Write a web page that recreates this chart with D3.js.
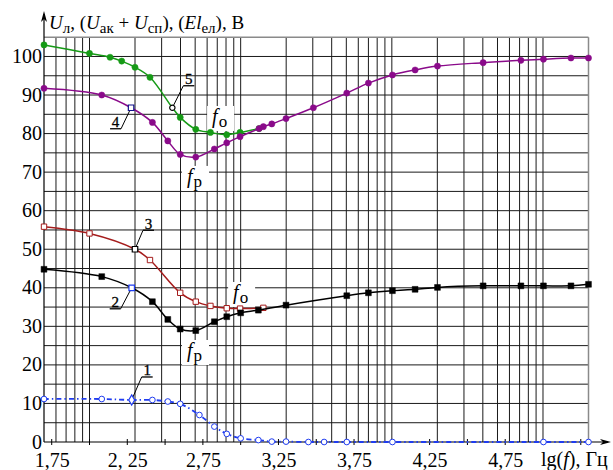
<!DOCTYPE html>
<html>
<head>
<meta charset="utf-8">
<script src="https://cdnjs.cloudflare.com/ajax/libs/d3/7.8.5/d3.min.js"></script>
<style>
body { margin: 0; background: #fff; }
svg text { font-family: "Liberation Serif", "Times New Roman", serif; }
</style>
</head>
<body>
<div id="chart"></div>
<script>
// curve 1 (blue, dashed)
var lgF1 = [1.699, 2.081, 2.279, 2.416, 2.518, 2.6, 2.727, 2.826, 2.908, 3.0, 3.117, 3.206, 3.30, 3.448, 3.552, 3.702, 4.004, 5.003, 5.301];
var u1 = [11.15, 11.15, 10.9, 10.9, 10.5, 9.9, 7.0, 4.0, 2.1, 0.95, 0.5, 0.1, 0.1, 0, 0, 0, 0, 0, 0];
// curve 2 (black)
var lgF2 = [1.699, 2.081, 2.279, 2.416, 2.518, 2.6, 2.703, 2.826, 2.908, 3.0, 3.117, 3.30, 3.702, 3.845, 4.004, 4.154, 4.302, 4.604, 4.854, 5.003, 5.185, 5.301];
var u2 = [44.8, 42.9, 40.0, 36.4, 31.8, 29.3, 28.9, 31.2, 32.5, 33.5, 34.2, 35.5, 37.95, 38.7, 39.25, 39.6, 40.1, 40.5, 40.5, 40.5, 40.5, 40.9];
// curve 3 (dark red)
var lgF3 = [1.699, 2.0, 2.301, 2.40, 2.6, 2.703, 2.80, 2.908, 2.996, 3.15];
var u3 = [55.85, 54.1, 50.0, 47.2, 38.7, 36.4, 35.3, 34.7, 34.6, 34.8];
// curve 4 (purple)
var lgF4 = [1.699, 2.081, 2.275, 2.416, 2.518, 2.6, 2.703, 2.826, 2.908, 2.996, 3.122, 3.15, 3.206, 3.30, 3.481, 3.702, 3.845, 4.004, 4.154, 4.302, 4.604, 4.854, 5.003, 5.185, 5.301];
var u4 = [91.75, 90.0, 86.7, 82.9, 78.1, 74.6, 73.9, 76.0, 77.6, 79.2, 81.3, 81.8, 82.5, 83.9, 86.7, 90.5, 93.1, 95.2, 96.5, 97.5, 98.4, 99.0, 99.3, 99.6, 99.6];
// curve 5 (green)
var lgF5 = [1.699, 2.0, 2.136, 2.213, 2.301, 2.40, 2.548, 2.6, 2.703, 2.80, 2.908, 2.996, 3.122];
var u5 = [103.0, 100.8, 99.8, 98.8, 97.2, 94.6, 86.7, 84.2, 81.1, 80.3, 79.7, 80.3, 81.3];

var xTickValues = [1.75, 2.25, 2.75, 3.25, 3.75, 4.25, 4.75];
var xTickLabels = ["1,75", "2, 25", "2,75", "3,25", "3,75", "4,25", "4,75"];
var xMinorTicks = [1.75, 2.0, 2.25, 2.5, 2.75, 3.0, 3.25, 3.5, 3.75, 4.0, 4.25, 4.5, 4.75, 5.0, 5.25];
var yTickValues = [0, 10, 20, 30, 40, 50, 60, 70, 80, 90, 100];

// f_o / f_p annotations (lg f, value)
var fLabelLg = [2.811, 2.645, 2.950, 2.645];
var fLabelU = [82.75, 67.2, 37.1, 22.05];
var fLabelSub = ["о", "р", "о", "р"];

var width = 613, height = 470;
var svg = d3.select("#chart").append("svg")
	.attr("width", width)
	.attr("height", height);

var x = d3.scaleLinear().domain([Math.log10(50), Math.log10(200000)]).range([44, 588.5]);
var y = d3.scaleLinear().domain([0, 105]).range([442, 37.2]);

// grid
var gridLg = [];
for(var n = 1; n <= 5; n++) {
	for(var k = 1; k <= 9; k++) {
		var f = k * Math.pow(10, n);
		if(f > 50 && f < 200000) gridLg.push(Math.log10(f));
	}
}
var gridU = [];
for(var v = 5; v <= 100; v += 5) gridU.push(v);

var grid = svg.append("g").attr("class", "grid");
grid.selectAll("line.v").data(gridLg).enter().append("line")
	.attr("x1", function(d) { return x(d); })
	.attr("x2", function(d) { return x(d); })
	.attr("y1", y(105)).attr("y2", y(0))
	.attr("stroke", "#1a1a1a").attr("stroke-width", 1);
grid.selectAll("line.h").data(gridU).enter().append("line")
	.attr("x1", x.range()[0]).attr("x2", x.range()[1])
	.attr("y1", function(d) { return y(d); })
	.attr("y2", function(d) { return y(d); })
	.attr("stroke", "#1a1a1a").attr("stroke-width", 1);
// top and right borders (grey)
grid.append("line").attr("x1", x.range()[0]).attr("x2", x.range()[1])
	.attr("y1", y(105)).attr("y2", y(105))
	.attr("stroke", "#8a8a8a").attr("stroke-width", 1.5);
grid.append("line").attr("x1", x.range()[1]).attr("x2", x.range()[1])
	.attr("y1", y(105)).attr("y2", y(0))
	.attr("stroke", "#8a8a8a").attr("stroke-width", 1.5);

// white boxes behind f labels
svg.selectAll("rect.fbox").data(fLabelLg).enter().append("rect")
	.attr("x", function(d) { return x(d) - 5; })
	.attr("y", function(d, i) { return y(fLabelU[i]) - 17; })
	.attr("width", 27).attr("height", 25)
	.attr("fill", "#fff");

// axes
var yAxis = d3.axisLeft(y).tickValues(yTickValues).tickSize(0).tickPadding(2);
var gy = svg.append("g").attr("transform", "translate(" + x.range()[0] + ",0)").call(yAxis);
gy.select(".domain").remove();
gy.selectAll("text").attr("font-size", 20).attr("font-family", "Liberation Serif").attr("fill", "#000")
	.attr("dy", "0.3em");

var xAxis = d3.axisBottom(x).tickValues(xTickValues)
	.tickFormat(function(d, i) { return xTickLabels[i]; })
	.tickSize(0);
var gx = svg.append("g").attr("transform", "translate(0," + y(0) + ")").call(xAxis);
gx.select(".domain").remove();
gx.selectAll("text").attr("font-size", 20).attr("font-family", "Liberation Serif")
	.attr("fill", "#000").attr("y", 25).attr("dy", 0);

svg.selectAll("line.minor").data(xMinorTicks).enter().append("line")
	.attr("x1", function(d) { return x(d); })
	.attr("x2", function(d) { return x(d); })
	.attr("y1", y(0) - 3).attr("y2", y(0) + 3)
	.attr("stroke", "#000").attr("stroke-width", 1);

// axis lines with arrows
svg.append("line").attr("x1", 44).attr("x2", 44).attr("y1", y(0)).attr("y2", 14)
	.attr("stroke", "#000").attr("stroke-width", 1.2);
svg.append("path").attr("d", "M44,11 L41,22 L44,19 L47,22 Z").attr("fill", "#000");
svg.append("line").attr("x1", 44).attr("x2", 608).attr("y1", y(0)).attr("y2", y(0))
	.attr("stroke", "#000").attr("stroke-width", 1.2);
svg.append("path").attr("d", "M611," + y(0) + " L600," + (y(0) - 3) + " L603," + y(0) + " L600," + (y(0) + 3) + " Z").attr("fill", "#000");

// axis titles
var yt = svg.append("text").attr("x", 49).attr("y", 29).attr("font-size", 19).attr("fill", "#000");
var ytParts = [
	["U", "italic", 0], ["л", "normal", 4], [", (", "normal", -4],
	["U", "italic", 0], ["ак", "normal", 4], [" + ", "normal", -4],
	["U", "italic", 0], ["сп", "normal", 4], ["), (", "normal", -4],
	["El", "italic", 0], ["ел", "normal", 4], ["), В", "normal", -4]
];
ytParts.forEach(function(p) {
	yt.append("tspan").text(p[0]).attr("font-style", p[1])
		.attr("font-size", p[2] > 0 ? 15 : 19).attr("dy", p[2]);
});
var xt = svg.append("text").attr("x", 541).attr("y", 466).attr("font-size", 20).attr("fill", "#000");
xt.append("tspan").text("lg(");
xt.append("tspan").text("f").attr("font-style", "italic");
xt.append("tspan").text("), Гц");

// curves
var series = [
	{lg: lgF1, u: u1, color: "#1f3cf0", width: 1.8, dash: "5,3,1.5,3", marker: "ocircle", anchor: 2, anchorShape: d3.symbolDiamond, anchorColor: "#1f3cf0", label: "1", lab: [10, -23]},
	{lg: lgF3, u: u3, color: "#a51c1c", width: 1.5, dash: null, marker: "osquare", anchor: 2, anchorShape: d3.symbolSquare, anchorColor: "#000", label: "3", lab: [8, -19]},
	{lg: lgF2, u: u2, color: "#000", width: 1.5, dash: null, marker: "square", anchor: 2, anchorShape: d3.symbolSquare, anchorColor: "#1f3cf0", label: "2", lab: [-22, 21]},
	{lg: lgF5, u: u5, color: "#169a16", width: 1.5, dash: null, marker: "circle", anchor: 6, anchorShape: d3.symbolCircle, anchorColor: "#000", label: "5", lab: [11, -22]},
	{lg: lgF4, u: u4, color: "#8a0a8a", width: 1.5, dash: null, marker: "circle", anchor: 2, anchorShape: d3.symbolSquare, anchorColor: "#10108a", label: "4", lab: [-21, 21]}
];

var line = d3.line()
	.x(function(d) { return x(d[0]); })
	.y(function(d) { return y(d[1]); })
	.curve(d3.curveCatmullRom.alpha(0.5));

series.forEach(function(s) {
	var pts = s.lg.map(function(l, i) { return [l, s.u[i]]; });
	svg.append("path").datum(pts)
		.attr("d", line)
		.attr("fill", "none")
		.attr("stroke", s.color)
		.attr("stroke-width", s.width)
		.attr("stroke-dasharray", s.dash);

	var shape = (s.marker == "square" || s.marker == "osquare") ? d3.symbolSquare : d3.symbolCircle;
	var size = (shape == d3.symbolSquare) ? 34 : 30;
	var open = s.marker.charAt(0) == "o";
	svg.selectAll(null).data(pts.filter(function(d, i) { return i != s.anchor; })).enter().append("path")
		.attr("d", d3.symbol().type(shape).size(open ? size * 0.85 : size))
		.attr("transform", function(d) { return "translate(" + x(d[0]) + "," + y(d[1]) + ")"; })
		.attr("fill", open ? "#fff" : s.color)
		.attr("stroke", s.color)
		.attr("stroke-width", open ? 1 : 0.5);

	// numbered label with leader line
	var a = pts[s.anchor];
	var ax = x(a[0]), ay = y(a[1]);
	var ux1 = ax + s.lab[0], uy = ay + s.lab[1], ux2 = ux1 + 11;
	var lx = s.lab[0] > 0 ? ux1 : ux2;
	svg.append("line").attr("x1", ax).attr("y1", ay).attr("x2", lx).attr("y2", uy)
		.attr("stroke", "#000").attr("stroke-width", 1);
	svg.append("line").attr("x1", ux1).attr("y1", uy).attr("x2", ux2).attr("y2", uy)
		.attr("stroke", "#000").attr("stroke-width", 1.3);
	svg.append("text").attr("x", (ux1 + ux2) / 2).attr("y", uy - 1.5)
		.attr("text-anchor", "middle")
		.attr("font-family", "Liberation Sans, Arial, sans-serif")
		.attr("font-size", 15).attr("fill", "#000")
		.attr("stroke", "#000").attr("stroke-width", 0.3)
		.text(s.label);
	svg.append("path")
		.attr("d", d3.symbol().type(s.anchorShape).size(s.anchorShape == d3.symbolCircle ? 22 : 30))
		.attr("transform", "translate(" + ax + "," + ay + ")")
		.attr("fill", "#fff")
		.attr("stroke", s.anchorColor)
		.attr("stroke-width", 1.2);
});

// f_o, f_p labels
fLabelLg.forEach(function(l, i) {
	var t = svg.append("text").attr("x", x(l)).attr("y", y(fLabelU[i]))
		.attr("font-size", 20).attr("fill", "#000");
	t.append("tspan").text("f").attr("font-style", "italic");
	t.append("tspan").text(fLabelSub[i]).attr("font-size", 17).attr("dy", 4).attr("dx", 1);
});
</script>
</body>
</html>
